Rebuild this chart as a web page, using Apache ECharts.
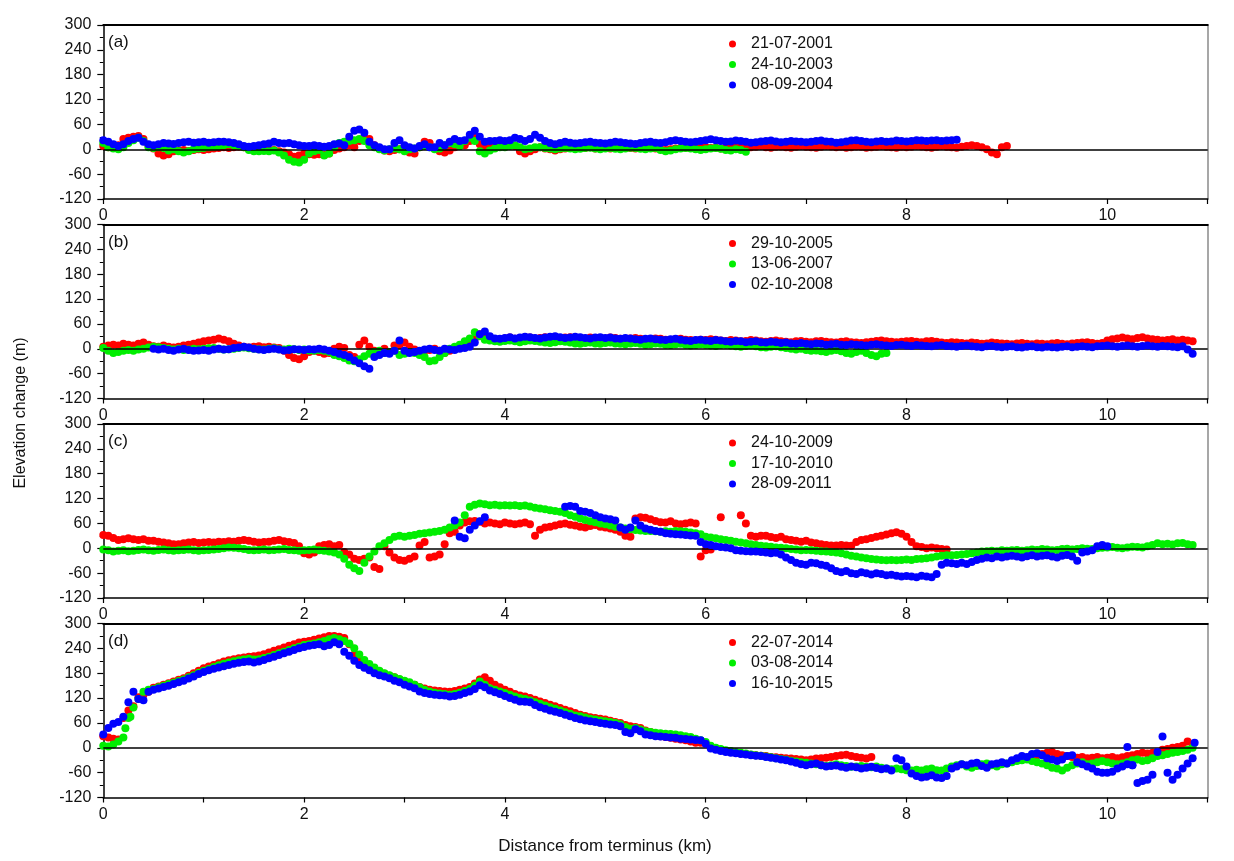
<!DOCTYPE html>
<html><head><meta charset="utf-8">
<script src="https://cdn.jsdelivr.net/npm/echarts/dist/echarts.min.js"></script>
<style>html,body{margin:0;padding:0;background:#fff}#c{width:1234px;height:861px}</style>
</head><body><div id="c"></div>
<script>
// ---------- DATA (distance step 0.05 km from start value) ----------
const STEP = 0.05;
const panelLabels = ['(a)', '(b)', '(c)', '(d)'];
const legendNames = [
  ['21-07-2001', '24-10-2003', '08-09-2004'],
  ['29-10-2005', '13-06-2007', '02-10-2008'],
  ['24-10-2009', '17-10-2010', '28-09-2011'],
  ['22-07-2014', '03-08-2014', '16-10-2015']
];
const yTicks = [-120, -60, 0, 60, 120, 180, 240, 300];

// Panel (a)
const aRedStart = 0;
const aRed = [8,5,3,10,25,28,30,32,25,10, 2,-10,-15,-12,-5,-3,-2,-4,-2,0,
  -2,0,2,3,5,3,5,6,5,4, 2,0,-2,-3,-2,-5,-8,-12,-18,-15,
  -10,-12,-13,-12,-14,-10,-2,2,5,10, 5,20,28,25,10,2,-3,-5,-2,0,
  2,-8,-10,5,18,15,2,-5,-8,-3, 5,8,10,20,30,12,5,12,15,15,
  14,12,8,-5,-10,-5,0,5,2,0, -3,0,2,3,5,4,3,5,2,3,
  4,2,3,5,4,3,2,4,5,3, 2,0,-2,0,2,3,4,3,2,4,
  5,3,4,2,3,5,6,4,3,5, 6,8,5,4,6,7,5,4,6,8,
  6,5,4,6,8,7,5,6,4,5, 7,6,4,5,6,8,6,5,4,6,
  5,6,8,7,5,4,6,8,6,5, 4,6,8,10,8,5,0,-8,-12,5,
  8];
const aGreenStart = 0;
const aGreen = [15,5,2,0,5,15,22,28,20,5, 3,5,3,-3,0,-5,-8,-5,0,2,
  3,5,6,8,10,12,10,8,5,-2, -5,-5,-4,-5,-3,-8,-15,-25,-30,-32,
  -25,-10,-5,-2,-15,-10,5,15,18,20, 22,25,20,10,5,0,-3,0,2,0,
  -5,0,2,5,8,5,0,2,10,15, 12,8,20,28,20,-5,-10,-3,2,5,
  5,8,10,5,0,2,5,5,3,2, 0,2,3,2,0,1,3,4,2,0,
  2,3,1,0,2,4,3,1,0,2, 3,-2,-5,-3,0,2,3,2,0,-2,
  0,2,3,1,-2,-3,0,-2,-6];
const aBlueStart = 0;
const aBlue = [22,18,12,8,12,20,25,28,18,12, 10,12,15,14,13,15,17,18,16,17,
  18,16,17,18,18,17,15,12,8,6, 8,10,12,14,18,15,14,15,12,10,
  8,8,10,8,6,8,12,14,10,30, 45,48,40,18,10,5,0,0,15,22,
  10,5,2,8,12,5,5,15,10,18, 25,20,22,35,45,30,18,20,20,22,
  20,22,28,25,20,25,35,28,20,15, 12,15,18,16,14,15,17,18,16,15,
  14,16,18,17,15,14,13,15,17,18, 16,15,17,20,22,20,18,17,18,20,
  22,24,22,20,18,19,21,20,18,16, 17,19,20,21,19,17,18,20,19,18,
  17,18,20,21,19,18,16,17,19,21, 22,20,18,17,19,20,18,19,21,20,
  19,20,22,21,20,21,22,20,21,22, 23];

// Panel (b)
const bRedStart = 0;
const bRed = [5,8,10,8,12,10,8,12,15,10, 6,5,8,5,3,5,8,10,12,15,
  18,20,22,25,22,18,12,8,5,3, 5,6,4,5,3,2,-5,-15,-22,-25,
  -18,-8,-5,-8,-12,-10,0,5,2,-15, -20,10,20,5,-5,-10,0,-8,8,10,
  15,5,-2,-8,-5,-3,0,-5,-10,-5, 0,5,10,15,25,35,30,25,22,20,
  25,27,24,26,28,27,25,26,28,27, 26,25,27,28,26,24,25,27,26,24,
  25,27,26,24,23,25,26,24,22,23, 25,24,22,21,23,24,22,21,20,22,
  21,23,22,20,19,21,20,18,19,21, 20,18,17,19,20,18,17,16,18,19,
  17,16,18,19,17,16,15,17,18,16, 15,14,16,17,19,20,18,17,16,17,
  18,19,17,16,18,19,17,15,14,16, 15,14,13,15,14,12,13,15,14,13,
  12,11,13,14,12,11,13,12,11,13, 14,12,11,13,14,15,16,14,12,14,
  20,23,25,27,25,23,26,28,25,23, 22,20,21,23,20,22,20,18];
const bGreenStart = 0;
const bGreen = [2,-5,-10,-8,-5,-3,-5,-2,0,3, 5,4,2,0,-2,0,-3,-2,0,-1,
  0,1,2,0,-2,-1,0,2,3,1, 0,-1,-2,0,1,-1,-2,0,-1,-3,
  -2,-4,-5,-3,-5,-8,-15,-18,-22,-28, -30,-25,-18,-12,-8,-5,-10,-8,-5,-15,
  -12,-8,-10,-15,-20,-30,-28,-20,-10,0, 5,10,18,25,40,30,22,20,18,17,
  19,20,18,16,18,20,19,17,15,14, 16,18,17,15,13,12,14,15,13,12,
  14,15,13,12,11,13,14,12,10,11, 13,12,10,9,11,12,10,8,9,11,
  10,8,7,9,10,8,6,5,7,8, 6,4,3,5,6,4,2,0,-2,0,
  -3,-5,-4,-6,-8,-5,-3,-6,-10,-12, -8,-5,-10,-15,-18,-12,-10];
const bBlueStart = 0.5;
const bBlue = [0,-2,0,-3,-5,-2,0,-3,-5,-4,
  -3,-5,-2,0,-2,-1,2,3,5,3, 0,-2,-3,-1,0,-2,-4,-3,-1,-2,
  -3,-1,-2,0,-2,-5,-8,-12,-15,-20, -28,-35,-42,-48,-20,-15,-10,-12,-5,20,
  -5,-10,-8,-5,-2,0,-3,-5,0,-2, -3,0,2,5,15,35,42,30,25,24,
  26,28,25,27,29,28,26,25,27,29, 30,28,26,27,29,28,26,25,27,28,
  26,27,25,24,26,25,23,22,24,25, 23,22,21,23,24,22,20,19,21,22,
  20,19,21,20,18,17,19,18,16,17, 18,16,15,17,16,14,15,13,12,14,
  12,11,13,12,10,11,12,10,9,11, 10,9,8,10,11,9,8,7,9,10,
  8,7,9,8,7,6,8,9,7,6, 5,7,8,6,5,4,6,7,5,4,
  5,6,4,3,5,6,4,3,5,4, 3,5,6,4,5,6,5,4,6,7,
  8,6,5,7,8,6,5,7,8,6, 5,7,6,5,4,6,-2,-12];

// Panel (c)
const cRedStart = 0;
const cRed = [32,30,25,20,22,24,22,20,22,18, 18,16,14,12,10,10,12,14,15,13,
  14,15,14,16,15,17,16,18,20,18, 16,14,15,16,18,20,17,15,13,5,
  -12,-15,-10,5,8,10,5,8,-9,-15, -25,-28,-25,-22,-45,-50,5,-10,-22,-28,
  -30,-25,-20,7,15,-22,-20,-15,10,36, 40,55,62,65,66,64,60,62,60,58,
  62,60,58,60,62,58,30,45,50,52, 55,58,60,57,55,52,50,54,56,52,
  50,48,45,40,30,28,72,75,74,70, 66,63,62,65,60,58,60,62,60,-20,
  -5,-3,null,75,null,null,null,80,60,30, 28,30,30,27,25,28,22,20,18,16,
  18,14,12,10,8,7,7,8,7,6, 15,20,22,25,28,30,33,36,39,35,
  28,15,5,3,0,2,0,-2,-3];
const cGreenStart = 0;
const cGreen = [-3,-5,-8,-6,-5,-7,-6,-4,-3,-5, -6,-4,-3,-5,-6,-5,-4,-3,-5,-6,
  -5,-4,-3,-2,0,2,1,0,-2,-4, -5,-4,-3,-5,-4,-3,-2,-4,-5,-6,
  -5,-4,-3,-5,-6,-8,-10,-15,-25,-40, -48,-55,-35,-20,-8,5,12,20,28,30,
  28,30,32,35,36,38,40,42,45,50, 55,62,80,100,105,108,106,104,105,103,
  104,103,104,102,103,101,98,96,94,92, 90,88,85,80,76,72,68,65,63,60,
  58,55,52,50,48,46,44,43,42,42, 41,40,41,40,42,41,40,38,36,34,
  28,26,24,22,20,18,16,14,12,10, 8,6,5,4,2,1,0,-2,-3,-5,
  -4,-5,-6,-7,-8,-9,-10,-12,-15,-18, -20,-22,-24,-26,-27,-28,-29,-28,-29,-28,
  -27,-28,-26,-25,-24,-22,-20,-18,-17,-17, -16,-15,-14,-12,-10,-8,-7,-6,-7,-5,
  -6,-5,-4,-6,-5,-3,-4,-2,-3,-5, -4,-2,-1,-3,-2,0,-1,-2,0,1,
  2,3,1,0,2,4,3,2,5,8, 12,10,11,9,12,13,10,8];
const cBlueStart = 3.5;
const cBlue = [67,28,24,45,55,65,75,null,null,null,
  null,null,null,null,null,null,null,null,null,null, null,null,100,102,100,90,88,85,80,75,
  72,70,67,50,45,50,67,55,48,45, 42,40,36,35,34,33,32,31,30,15,
  10,8,5,3,2,0,-5,-6,-7,-8, -8,-9,-10,-12,-11,-15,-22,-28,-35,-38,
  -40,-35,-36,-40,-42,-48,-55,-58,-55,-60, -62,-58,-60,-63,-60,-62,-65,-64,-66,-68,
  -67,-68,-70,-66,-68,-70,-62,-40,-35,-36, -38,-35,-38,-33,-28,-25,-22,-24,-20,-22,
  -20,-18,-20,-22,-19,-17,-20,-18,-17,-20, -22,-18,-16,-20,-30,-10,-8,-5,5,8,
  5];

// Panel (d)
const dRedStart = 0;
const dRed = [28,25,22,20,72,90,100,122,128,135, 145,148,152,156,160,164,168,174,180,186,
  192,196,200,204,208,211,214,216,218,220, 221,223,226,230,234,238,242,246,250,254,
  256,258,261,264,267,270,270,268,265,250, 225,212,203,196,190,184,179,174,170,165,
  160,156,152,147,143,140,138,137,136,135, 137,140,143,147,155,165,170,162,152,146,
  140,135,130,126,124,120,116,112,108,104, 100,96,92,88,84,80,77,74,72,70,
  68,65,62,60,55,52,50,48,42,38, 30,28,26,24,22,20,18,15,12,12,
  10,2,-2,-5,-8,-10,-12,-14,-15,-17, -18,-19,-20,-22,-23,-24,-25,-26,-27,-28,
  -30,-28,-26,-25,-24,-22,-20,-18,-17,-20, -22,-24,-26,-22,null,null,null,null,null,null,
  null,null,null,null,null,null,null,null,null,null, null,null,null,null,null,null,null,null,null,null,
  null,null,null,null,-25,-20,-18,-15,-12,-10, -15,-18,-20,-22,-24,-22,-25,-24,-22,-25,
  -24,-22,-25,-23,-20,-18,-15,-12,-14,-12, -10,-5,-3,0,2,5,15,8];
const dGreenStart = 0;
const dGreen = [5,3,8,15,25,72,97,118,135,140, 142,146,150,154,157,161,165,170,175,181,
  186,190,195,199,203,206,209,211,213,215, 213,214,217,220,224,228,232,236,240,244,
  248,250,252,255,258,262,265,262,258,252, 240,225,212,202,194,186,180,175,170,166,
  162,158,152,146,140,136,133,131,130,128, 130,133,137,142,150,160,152,144,140,136,
  132,128,124,120,118,114,110,106,102,98, 94,90,86,82,78,76,73,70,68,66,
  64,62,60,57,50,46,48,44,40,38, 36,35,34,33,32,30,28,26,22,18,
  14,5,0,-3,-6,-8,-10,-12,-14,-16, -18,-19,-21,-23,-25,-27,-29,-31,-33,-35,
  -36,-38,-40,-42,-44,-42,-40,-42,-44,-46, -45,-44,-46,-47,-45,-48,-50,-52,-50,-52,
  -54,-55,-53,-55,-52,-50,-54,-55,-50,-45, -42,-40,-45,-48,-44,-40,-38,-42,-45,-40,
  -38,-35,-32,-30,-28,-32,-35,-38,-42,-48, -50,-55,-48,-42,-38,-35,-40,-38,-35,-32,
  -35,-38,-40,-38,-35,-30,-28,-32,-30,-25, -20,-18,-15,-12,-10,-8,-5,0];
const dGreenExtra = [[0.22, 47], [0.27, 75]];
const dBlueStart = 0;
const dBlue = [32,48,58,62,75,110,135,118,115,135, 140,143,147,150,154,158,162,167,172,178,
  183,187,191,194,197,200,203,205,207,208, 206,208,212,216,220,224,228,232,236,240,
  243,246,248,250,245,248,255,250,232,222, 210,200,193,187,180,175,172,168,162,158,
  152,148,144,136,132,130,128,127,126,124, 125,128,132,136,142,151,146,138,134,130,
  125,120,116,112,111,110,103,98,94,90, 87,84,80,76,72,69,66,64,62,60,
  58,56,55,52,38,35,45,40,32,30, 28,27,26,25,24,22,21,20,19,18,
  10,-2,-5,-8,-10,-12,-13,-15,-16,-18, -19,-20,-22,-24,-26,-28,-30,-33,-36,-40,
  -42,-40,-38,-42,-45,-44,-43,-46,-48,-45, -47,-50,-48,-46,-49,-52,-50,-55,-25,-30,
  -45,-62,-68,-72,-70,-66,-72,-73,-68,-50, -45,-40,-42,-38,-36,-44,-48,-40,-38,-35,
  -38,-30,-25,-20,-22,-15,-13,-18,-25,-28, -32,-28,-20,-18,-35,-40,-45,-50,-58,-60,
  -60,-58,-50,-45,-40,-42,-85,-80,-77,-65, -10,27,-60,-77,-65,-50,-38,-25];
const dBlueExtra = [[10.2, 2], [10.87, 12], [10.25, -42]];

// ---------- BUILD ----------
function pts(start, ys, extra) {
  const out = [];
  ys.forEach((y, i) => { if (y !== null) out.push([+(start + i * STEP).toFixed(2), y]); });
  (extra || []).forEach(p => out.push(p));
  return out;
}
const panels = [
  [pts(aRedStart, aRed), pts(aGreenStart, aGreen), pts(aBlueStart, aBlue)],
  [pts(bRedStart, bRed), pts(bGreenStart, bGreen), pts(bBlueStart, bBlue)],
  [pts(cRedStart, cRed), pts(cGreenStart, cGreen), pts(cBlueStart, cBlue)],
  [pts(dRedStart, dRed), pts(dGreenStart, dGreen, dGreenExtra), pts(dBlueStart, dBlue, dBlueExtra)]
];
const colors = ['#ff0000', '#00ee00', '#0000ff'];
const FONT = 'Liberation Sans, Arial, sans-serif';

const gridTops = [25, 224.5, 424, 623.5];
const grids = [], xAxes = [], yAxes = [], series = [], legends = [], graphics = [];
gridTops.forEach((top, i) => {
  grids.push({ left: 103.3, top: top, width: 1104.4, height: 174, show: false });
  xAxes.push({
    gridIndex: i, type: 'value', position: 'bottom', min: 0, max: 11, interval: 1,
    axisLine: { show: true, onZero: false, lineStyle: { color: '#000', width: 1.5 } },
    axisTick: { show: true, inside: false, length: 5, lineStyle: { color: '#000', width: 1.2 } },
    axisLabel: { show: true, margin: 9, fontSize: 16, color: '#111', fontFamily: FONT,
      formatter: v => (v % 2 === 0 ? String(v) : '') },
    splitLine: { show: false }
  });
  xAxes.push({
    gridIndex: i, type: 'value', position: 'top', min: 0, max: 11,
    axisLine: { show: true, onZero: false, lineStyle: { color: '#000', width: 2 } },
    axisTick: { show: false }, axisLabel: { show: false }, splitLine: { show: false }
  });
  yAxes.push({
    gridIndex: i, type: 'value', position: 'left', min: yTicks[0], max: yTicks[yTicks.length - 1], interval: 60,
    axisLine: { show: true, onZero: false, lineStyle: { color: '#000', width: 1.5 } },
    axisTick: { show: true, inside: false, length: 6, lineStyle: { color: '#000', width: 1.2 } },
    minorTick: { show: true, splitNumber: 2, length: 3.5, lineStyle: { color: '#000', width: 1 } },
    axisLabel: { show: true, margin: 12, fontSize: 16, color: '#111', fontFamily: FONT },
    splitLine: { show: false }, minorSplitLine: { show: false }
  });
  yAxes.push({
    gridIndex: i, type: 'value', position: 'right', min: -120, max: 300,
    axisLine: { show: true, onZero: false, lineStyle: { color: '#8a8a8a', width: 1.5 } },
    axisTick: { show: false }, axisLabel: { show: false }, splitLine: { show: false }
  });
  panels[i].forEach((data, k) => {
    const s = {
      name: legendNames[i][k], type: 'scatter', xAxisIndex: 2 * i, yAxisIndex: 2 * i,
      data: data, symbol: 'circle', symbolSize: 8,
      itemStyle: { color: colors[k], opacity: 1 }, silent: true, z: 3 + k
    };
    if (k === 0) {
      s.markLine = {
        silent: true, symbol: ['none', 'none'], label: { show: false },
        lineStyle: { color: '#000', width: 1.5, type: 'solid' },
        data: [{ yAxis: 0 }], animation: false
      };
    }
    series.push(s);
  });
  legends.push({
    data: legendNames[i], orient: 'vertical', left: 724, top: top + 6,
    icon: 'circle', itemWidth: 7, itemHeight: 7, itemGap: 4.5,
    selectedMode: false,
    formatter: n => '{t|' + n + '}',
    textStyle: { rich: { t: { fontSize: 16, fontFamily: FONT, color: '#111', padding: [0, 0, 0, 10], lineHeight: 16 } } }
  });
  graphics.push({
    type: 'text', left: 108, top: top + 9,
    style: { text: panelLabels[i], font: '17px ' + FONT, fill: '#111' }
  });
});
graphics.push({
  type: 'text', x: 21, y: 413, rotation: Math.PI / 2,
  style: { text: 'Elevation change (m)', font: '16px ' + FONT, fill: '#111', align: 'center', verticalAlign: 'middle' }
});
graphics.push({
  type: 'text', x: 605, y: 846,
  style: { text: 'Distance from terminus (km)', font: '17px ' + FONT, fill: '#111', align: 'center', verticalAlign: 'middle' }
});

const chart = echarts.init(document.getElementById('c'), null, { renderer: 'canvas' });
chart.setOption({
  animation: false, backgroundColor: '#fff',
  grid: grids, xAxis: xAxes, yAxis: yAxes, series: series, legend: legends, graphic: graphics
});
</script></body></html>
